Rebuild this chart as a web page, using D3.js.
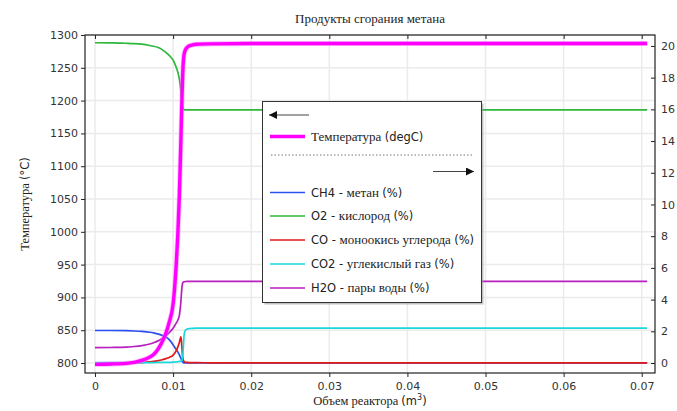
<!DOCTYPE html>
<html>
<head>
<meta charset="utf-8">
<script src="https://cdn.jsdelivr.net/npm/d3@7"></script>
<style>
  html, body { margin: 0; padding: 0; background: #fff; }
  svg { display: block; }
</style>
</head>
<body>
<svg id="chart" width="677" height="411"></svg>
<script>
// Reactor volume, m^3 (shared sample positions, denser across the ignition front)
const volume = [0, 0.002, 0.004, 0.005, 0.006, 0.007, 0.0075, 0.008, 0.0085, 0.009, 0.0095,
  0.01, 0.0102, 0.0104, 0.0106, 0.0108, 0.011, 0.0111, 0.0112, 0.0113, 0.0114, 0.0115,
  0.0116, 0.0118, 0.012, 0.0125, 0.013, 0.015, 0.02, 0.03, 0.04, 0.05, 0.06, 0.0707];

// Temperature, degC (left axis)
const temperature = [798, 798.5, 799.5, 801, 804, 809, 813, 820, 830, 843, 862,
  890, 915, 950, 995, 1055, 1140, 1190, 1230, 1258, 1270, 1275,
  1278, 1281, 1283, 1285, 1286, 1286.5, 1287, 1287, 1287, 1287, 1287, 1287];

// Mole fractions, % (right axis)
const ch4 = [2.05, 2.05, 2.04, 2.02, 1.99, 1.94, 1.9, 1.84, 1.76, 1.66, 1.48,
  1.15, 1.0, 0.85, 0.7, 0.52, 0.3, 0.18, 0.08, 0.03, 0.01, 0.004,
  0.002, 0.001, 0, 0, 0, 0, 0, 0, 0, 0, 0, 0];
const o2 = [20.2, 20.19, 20.17, 20.15, 20.11, 20.03, 19.98, 19.92, 19.8, 19.62, 19.4,
  19.1, 18.9, 18.65, 18.35, 17.9, 17.1, 16.6, 16.25, 16.05, 15.99, 15.97,
  15.97, 15.97, 15.97, 15.97, 15.97, 15.97, 15.97, 15.97, 15.97, 15.97, 15.97, 15.97];
const co = [0, 0.002, 0.006, 0.015, 0.03, 0.07, 0.1, 0.14, 0.19, 0.26, 0.35,
  0.5, 0.62, 0.78, 1.0, 1.3, 1.65, 1.2, 0.5, 0.2, 0.1, 0.06,
  0.05, 0.04, 0.03, 0.02, 0.02, 0.01, 0.01, 0.01, 0.01, 0.01, 0.01, 0.01];
const co2 = [0.03, 0.03, 0.03, 0.03, 0.03, 0.03, 0.03, 0.035, 0.04, 0.04, 0.045,
  0.05, 0.06, 0.07, 0.08, 0.1, 0.12, 0.15, 0.25, 0.9, 1.7, 2.0,
  2.08, 2.14, 2.17, 2.19, 2.2, 2.2, 2.2, 2.2, 2.2, 2.2, 2.2, 2.2];
const h2o = [0.97, 0.98, 1.0, 1.04, 1.1, 1.2, 1.28, 1.38, 1.52, 1.7, 1.92,
  2.2, 2.35, 2.52, 2.7, 3.0, 3.9, 4.6, 5.0, 5.1, 5.12, 5.13,
  5.14, 5.15, 5.15, 5.15, 5.15, 5.15, 5.15, 5.15, 5.15, 5.15, 5.15, 5.15];

// Tick values
const xTicks = [0, 0.01, 0.02, 0.03, 0.04, 0.05, 0.06, 0.07];
const leftTicks = [800, 850, 900, 950, 1000, 1050, 1100, 1150, 1200, 1250, 1300];
const rightTicks = [0, 2, 4, 6, 8, 10, 12, 14, 16, 18, 20];

// Labels
const titleText = "Продукты сгорания метана";
const xTitle = "Объем реактора (m";
const yTitle = "Температура (°C)";
const tempLabel = "Температура (degC)";
const speciesLabels = ["CH4 - метан (%)", "O2 - кислород (%)", "CO - моноокись углерода (%)",
  "CO2 - углекислый газ (%)", "H2O - пары воды (%)"];
const speciesColors = ["#2b4ff0", "#2eb83c", "#e01818", "#18d8dc", "#b81fc0"];
const speciesSeries = [ch4, o2, co, co2, h2o];

const SERIF = "'Liberation Serif', 'DejaVu Serif', serif";
const SANS = "'DejaVu Sans', sans-serif";

// Write a label as runs: Cyrillic in a serif face, Latin/digits in a sans face
function richText(sel, str, sansSize, serifSize) {
  const runs = [];
  const isCyr = ch => /[\u0400-\u04FF]/.test(ch);
  for (const ch of str) {
    const c = isCyr(ch) || (ch === " " && runs.length && runs[runs.length - 1].cyr);
    if (runs.length && runs[runs.length - 1].cyr === c) runs[runs.length - 1].t += ch;
    else runs.push({ cyr: c, t: ch });
  }
  runs.forEach(r => {
    sel.append("tspan")
      .attr("font-family", r.cyr ? SERIF : SANS)
      .attr("font-size", r.cyr ? serifSize : sansSize)
      .text(r.t);
  });
  return sel;
}

const svg = d3.select("#chart");
const plot = { left: 85, right: 655, top: 35, bottom: 373 };

const x = d3.scaleLinear().domain([-0.00128, 0.0717]).range([plot.left, plot.right]);
const yL = d3.scaleLinear().domain([784.8, 1300]).range([plot.bottom, plot.top]);
const yR = d3.scaleLinear().domain([-0.63, 20.69]).range([plot.bottom, plot.top]);

// Grid
const grid = svg.append("g").attr("stroke", "#ebebeb").attr("stroke-width", 1.5);
grid.selectAll("line.v").data(xTicks).join("line")
  .attr("x1", d => x(d)).attr("x2", d => x(d))
  .attr("y1", plot.top).attr("y2", plot.bottom);
grid.selectAll("line.h").data(leftTicks).join("line")
  .attr("x1", plot.left).attr("x2", plot.right)
  .attr("y1", d => yL(d)).attr("y2", d => yL(d));

// Curves
const clip = svg.append("clipPath").attr("id", "clip").append("rect")
  .attr("x", plot.left).attr("y", plot.top)
  .attr("width", plot.right - plot.left).attr("height", plot.bottom - plot.top);
const curves = svg.append("g").attr("clip-path", "url(#clip)");

const lineR = d3.line().x((d, i) => x(volume[i])).y(d => yR(d)).curve(d3.curveMonotoneX);
const lineL = d3.line().x((d, i) => x(volume[i])).y(d => yL(d)).curve(d3.curveMonotoneX);

speciesSeries.forEach((s, k) => {
  curves.append("path").datum(s)
    .attr("fill", "none").attr("stroke", speciesColors[k])
    .attr("stroke-width", 1.7).attr("stroke-linejoin", "round")
    .attr("d", lineR);
});
curves.append("path").datum(temperature)
  .attr("fill", "none").attr("stroke", "#ff77ff").attr("stroke-opacity", 0.5)
  .attr("stroke-width", 5).attr("stroke-linejoin", "round").attr("d", lineL);
curves.append("path").datum(temperature)
  .attr("fill", "none").attr("stroke", "#ff00ff")
  .attr("stroke-width", 3.4).attr("stroke-linejoin", "round").attr("d", lineL);

// Frame
svg.append("rect")
  .attr("x", plot.left).attr("y", plot.top)
  .attr("width", plot.right - plot.left).attr("height", plot.bottom - plot.top)
  .attr("fill", "none").attr("stroke", "#222").attr("stroke-width", 1.2);

// Axes
const fmtX = d => d === 0 ? "0" : d3.format(".2")(d);
const bottomAxis = d3.axisBottom(x).tickValues(xTicks).tickFormat(fmtX).tickSize(4).tickPadding(5);
const topAxis = d3.axisBottom(x).tickValues(xTicks).tickFormat("").tickSize(4);
const leftAxis = d3.axisLeft(yL).tickValues(leftTicks).tickFormat(d3.format("d")).tickSize(4).tickPadding(3);
const rightAxis = d3.axisRight(yR).tickValues(rightTicks).tickSize(4).tickPadding(3);

function style(g) {
  g.select(".domain").remove();
  g.selectAll("line").attr("stroke", "#222");
  g.selectAll("text").attr("font-family", SANS).attr("font-size", 11).attr("fill", "#333");
}
svg.append("g").attr("transform", `translate(0,${plot.bottom})`).call(bottomAxis).call(style);
svg.append("g").attr("transform", `translate(0,${plot.top})`).call(topAxis).call(style);
svg.append("g").attr("transform", `translate(${plot.left},0)`).call(leftAxis).call(style);
const ra = svg.append("g").attr("transform", `translate(${plot.right},0)`).call(rightAxis).call(style);
ra.selectAll("line").attr("x1", -4).attr("x2", 0);
ra.selectAll("text").attr("x", 6);

// Titles
richText(svg.append("text").attr("x", 370).attr("y", 23).attr("text-anchor", "middle").attr("fill", "#222"),
  titleText, 12, 13);

const xt = richText(svg.append("text").attr("x", 370).attr("y", 405).attr("text-anchor", "middle").attr("fill", "#222"),
  xTitle, 11.5, 12.5);
xt.append("tspan").attr("font-family", SANS).attr("font-size", 8).attr("dy", -5).text("3");
xt.append("tspan").attr("font-family", SANS).attr("font-size", 11.5).attr("dy", 5).text(")");

richText(svg.append("text").attr("transform", `translate(29,${(plot.top + plot.bottom) / 2}) rotate(-90)`)
  .attr("text-anchor", "middle").attr("fill", "#222"), yTitle, 11.5, 12.5);

// Legend
const lg = svg.append("g");
lg.append("rect").attr("x", 264.5).attr("y", 103.5).attr("width", 219).attr("height", 201)
  .attr("fill", "#999").attr("opacity", 0.6);
lg.append("rect").attr("x", 262.5).attr("y", 101.5).attr("width", 219).attr("height", 201)
  .attr("fill", "#fff").attr("stroke", "#333").attr("stroke-width", 1);

const defs = svg.append("defs");
defs.append("marker").attr("id", "arrow").attr("viewBox", "0 0 10 10")
  .attr("refX", 10).attr("refY", 5).attr("markerWidth", 9).attr("markerHeight", 8)
  .attr("markerUnits", "userSpaceOnUse").attr("orient", "auto")
  .append("path").attr("d", "M0,0 L10,5 L0,10 z").attr("fill", "#111");

lg.append("line").attr("x1", 309).attr("x2", 269).attr("y1", 115).attr("y2", 115)
  .attr("stroke", "#444").attr("stroke-width", 1.2).attr("marker-end", "url(#arrow)");
lg.append("line").attr("x1", 270).attr("x2", 305).attr("y1", 136.5).attr("y2", 136.5)
  .attr("stroke", "#ff00ff").attr("stroke-width", 3.5);
richText(lg.append("text").attr("x", 311).attr("y", 140.5).attr("fill", "#222"), tempLabel, 11.5, 13);
lg.append("line").attr("x1", 271).attr("x2", 474).attr("y1", 155).attr("y2", 155)
  .attr("stroke", "#777").attr("stroke-width", 1).attr("stroke-dasharray", "1.5,2");
lg.append("line").attr("x1", 433).attr("x2", 474).attr("y1", 171.5).attr("y2", 171.5)
  .attr("stroke", "#444").attr("stroke-width", 1.2).attr("marker-end", "url(#arrow)");

const rowY = [192.5, 216, 240, 264, 288];
speciesLabels.forEach((lab, k) => {
  lg.append("line").attr("x1", 270).attr("x2", 305).attr("y1", rowY[k]).attr("y2", rowY[k])
    .attr("stroke", speciesColors[k]).attr("stroke-width", 1.7);
  richText(lg.append("text").attr("x", 311).attr("y", rowY[k] + 4).attr("fill", "#222"), lab, 11.5, 13);
});
</script>
</body>
</html>
